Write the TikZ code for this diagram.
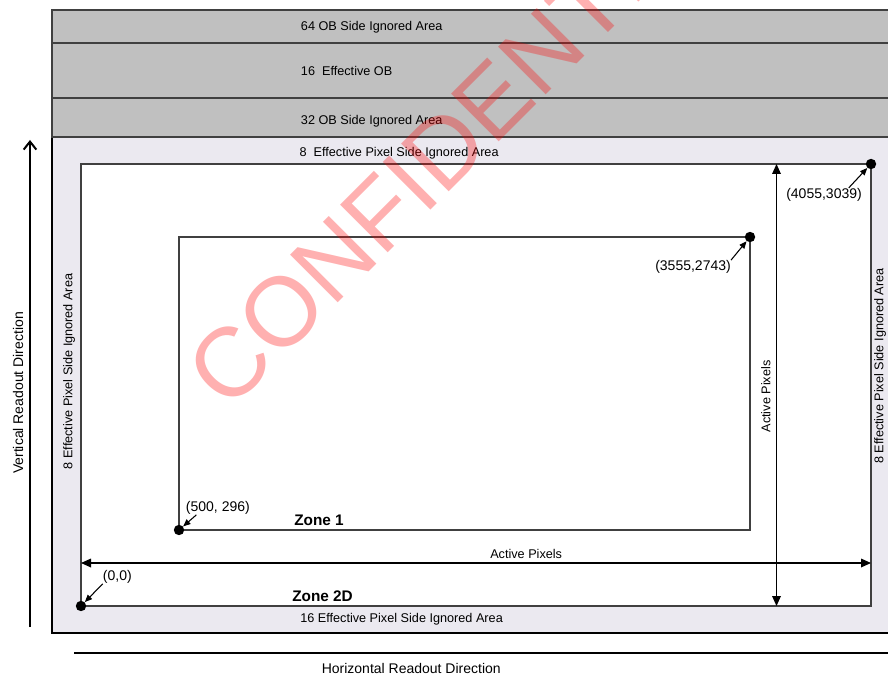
\documentclass[tikz,border=0pt]{standalone}
\usepackage{fontspec}
\setmainfont{Liberation Sans}
\usetikzlibrary{arrows.meta}
\definecolor{obgray}{HTML}{C0C0C0}
\definecolor{pixlav}{HTML}{EBE9F0}
\definecolor{edgegray}{HTML}{404040}

\begin{document}
\begin{tikzpicture}[x=0.75pt,y=-0.75pt]
\tikzset {band/.style={draw=edgegray,line width=1.2pt,fill=obgray},
          frame/.style={draw=edgegray,line width=1.1pt},
          txt/.style={anchor=base west,inner sep=0pt,font=\fontsize{9.5}{11}\selectfont},
          vtxt/.style={rotate=90,inner sep=0pt,font=\fontsize{9.5}{11}\selectfont},
          coordtxt/.style={anchor=base west,inner sep=0pt,font=\fontsize{10.5}{12}\selectfont},
          zonetxt/.style={anchor=base west,inner sep=0pt,font=\fontsize{11.5}{13}\selectfont\bfseries},
          dirtxt/.style={inner sep=0pt,font=\fontsize{10.5}{12}\selectfont},
          dot/.style={circle,fill=black,inner sep=0pt,minimum size=7.8pt},
          dim/.style={line width=0.9pt,{Triangle[length=7.5pt,width=6.5pt]}-{Triangle[length=7.5pt,width=6.5pt]}},
          ptr/.style={line width=0.8pt,-{Triangle[length=5.5pt,width=4.5pt]}},
          readout/.style={line width=1.5pt}}
\useasboundingbox (0,0) rectangle (888,677);
\clip (0,0) rectangle (888,677);
\draw[line width=1.5pt,fill=pixlav] (52,137) rectangle (900,633);
\draw[band] (52,10) rectangle (900,43);
\draw[band] (52,43) rectangle (900,98);
\draw[band] (52,98) rectangle (900,137);
\node[txt] (ob64) at (300.7,30.7) {64 OB Side Ignored Area};
\node[txt] (ob16) at (300.7,75.7) {16\ \ Effective OB};
\node[txt] (ob32) at (300.7,124.3) {32 OB Side Ignored Area};
\node[txt] (eptop) at (299.3,156.7) {8\ \ Effective Pixel Side Ignored Area};
\node[txt] (epbot) at (300,622.7) {16 Effective Pixel Side Ignored Area};
\node[vtxt] (epleft) at (69,371.5) {8 Effective Pixel Side Ignored Area};
\node[vtxt] (epright) at (880,366) {8 Effective Pixel Side Ignored Area};

\coordinate (z2sw) at (81,606);
\coordinate (z2ne) at (871,164);
\coordinate (z1sw) at (179,530);
\coordinate (z1ne) at (750,237);
\draw[frame,fill=white] (z2sw) rectangle (z2ne);
\draw[frame] (z1sw) rectangle (z1ne);

\coordinate (hl) at (81,563);
\coordinate (hr) at (871,563);
\coordinate (vt) at (776.5,164);
\coordinate (vb) at (776.5,606);
\draw[dim] (hl) -- (hr);
\draw[dim] (vb) -- (vt);
\node[txt] (hact) at (490,558.3) {Active Pixels};
\node[vtxt] (vact) at (765.8,396.5) {Active Pixels};

\node[dot] (p00) at (z2sw) {};
\node[dot] (p4055) at (z2ne) {};
\node[dot] (p500) at (z1sw) {};
\node[dot] (p3555) at (z1ne) {};
\node[coordtxt] (l00) at (102.7,580.7) {(0,0)};
\node[coordtxt] (l4055) at (786,198.3) {(4055,3039)};
\node[coordtxt] (l500) at (185.7,511.7) {(500, 296)};
\node[coordtxt] (l3555) at (655,270.5) {(3555,2743)};
\draw[ptr] (l00.south west) -- (p00);
\draw[ptr] ([xshift=-10]l4055.north east) -- (p4055);
\draw[ptr] ([xshift=8]l500.south west) -- (p500);
\draw[ptr] (l3555.north east) -- (p3555);
\node[zonetxt] (zone1) at (294,525) {Zone 1};
\node[zonetxt] (zone2) at (292,601.7) {Zone 2D};

\coordinate (vr0) at (30,627);
\coordinate (vr1) at (30,140);
\draw[readout,-{Straight Barb[length=6pt,width=9.5pt]}] (vr0) -- (vr1);
\node[dirtxt,rotate=90] (vdir) at (18,393) {Vertical Readout Direction};
\coordinate (hr0) at (74,653);
\coordinate (hr1) at (900,653);
\draw[readout] (hr0) -- (hr1);
\node[dirtxt,anchor=base west] (hdir) at (321.5,673.5) {Horizontal Readout Direction};

\node[anchor=base west,rotate=45,inner sep=0pt,text=red,text opacity=0.31,
      font=\fontsize{73.5}{80}\selectfont] (mark) at (228,413) {CONFIDENTIAL};
\end{tikzpicture}
\end{document}
